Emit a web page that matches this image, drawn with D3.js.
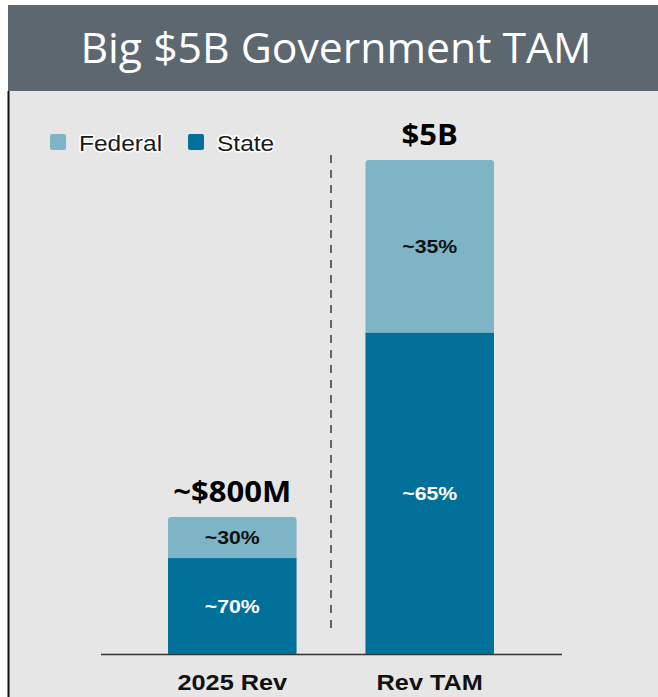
<!DOCTYPE html>
<html>
<head>
<meta charset="utf-8">
<script src="https://cdn.jsdelivr.net/npm/d3@7"></script>
<style>
  html, body { margin: 0; padding: 0; background: #ffffff; }
  svg { display: block; }
</style>
</head>
<body>
<svg id="chart" width="658" height="697"></svg>
<script>
// Revenue today vs. total addressable market, split by government level
const categories = ["2025 Rev", "Rev TAM"];
const totals = [800, 5000];              // $M
const totalLabels = ["~$800M", "$5B"];
const federalShare = [30, 35];           // %
const stateShare = [70, 65];             // %
const seriesNames = ["Federal", "State"];
const titleText = "Big $5B Government TAM";

const colors = { Federal: "#7db4c6", State: "#01719a" };

const W = 658, H = 697;
const svg = d3.select("#chart");

// page frame: light panel, dark header, left rule
svg.append("rect").attr("x", 8).attr("y", 5).attr("width", W - 8).attr("height", H - 5).attr("fill", "#e6e6e6");
svg.append("rect").attr("x", 8).attr("y", 5).attr("width", W - 8).attr("height", 86).attr("fill", "#5c6770");
svg.append("line").attr("x1", 8.5).attr("x2", 8.5).attr("y1", 91).attr("y2", H)
  .attr("stroke", "#111").attr("stroke-width", 2);

// text helper with a slight horizontal widening
function label(g, x, y, txt, opts) {
  const sx = opts.sx || 1;
  return g.append("text")
    .attr("transform", `translate(${x},${y}) scale(${sx},1)`)
    .attr("text-anchor", opts.anchor || "middle")
    .attr("font-family", opts.family || "Liberation Sans, Arial, sans-serif")
    .attr("font-size", opts.size)
    .attr("font-weight", opts.weight || "normal")
    .attr("fill", opts.fill || "#000")
    .text(txt);
}

label(svg, 336, 63, titleText, { family: "Open Sans, sans-serif", size: 41.5, fill: "#ffffff", sx: 1.03 });

// scales
const x = d3.scaleBand().domain(categories).range([168, 494]).paddingInner(0.349).paddingOuter(0);
const baseY = 654;
const h = d3.scalePow().exponent(0.7).domain([0, 5000]).range([0, 494]);

// axis baseline
svg.append("line").attr("x1", 101).attr("x2", 562).attr("y1", baseY + 0.5).attr("y2", baseY + 0.5)
  .attr("stroke", "#333").attr("stroke-width", 1.5);

// rounded top corners path
function topRounded(x0, y0, w, hh, r) {
  return `M${x0},${y0 + hh}V${y0 + r}Q${x0},${y0} ${x0 + r},${y0}H${x0 + w - r}Q${x0 + w},${y0} ${x0 + w},${y0 + r}V${y0 + hh}Z`;
}

const bars = categories.map((c, i) => {
  const total = h(totals[i]);
  const stateH = total * stateShare[i] / 100;
  const fedH = total * federalShare[i] / 100;
  return { c, i, total, stateH, fedH };
});

const g = svg.append("g");
bars.forEach(b => {
  const x0 = x(b.c), w = x.bandwidth();
  const top = baseY - b.total;
  const split = baseY - b.stateH;
  g.append("path").attr("d", topRounded(x0, top, w, b.fedH + 1, 3)).attr("fill", colors.Federal);
  g.append("rect").attr("x", x0).attr("y", split).attr("width", w).attr("height", b.stateH).attr("fill", colors.State);

  const cx = x0 + w / 2;
  label(g, cx, top + b.fedH / 2 + 6.5, "~" + federalShare[b.i] + "%", { size: 18.5, weight: "bold", fill: "#111", sx: 1.15 });
  label(g, cx, split + b.stateH / 2 + 6.5, "~" + stateShare[b.i] + "%", { size: 18.5, weight: "bold", fill: "#ffffff", sx: 1.15 });
  label(g, cx, top - 15, totalLabels[b.i], { family: "Open Sans, sans-serif", size: 29, weight: "bold", fill: "#000", sx: 1.07 });
  label(g, cx, 690, b.c, { size: 22, weight: "bold", fill: "#111", sx: 1.15 });
});

// dashed divider between actuals and market
svg.append("line").attr("x1", 331).attr("x2", 331).attr("y1", 155).attr("y2", 635)
  .attr("stroke", "#5c6770").attr("stroke-width", 2).attr("stroke-dasharray", "8,7");

// legend
const legend = svg.append("g");
const legX = [50, 188];
seriesNames.forEach((s, i) => {
  legend.append("rect").attr("x", legX[i]).attr("y", 134).attr("width", 16).attr("height", 16).attr("rx", 2)
    .attr("fill", colors[s]);
  label(legend, legX[i] + 29, 151, s, { size: 21.5, fill: "#1a1a1a", anchor: "start", sx: 1.14 })
    .attr("stroke", "#ffffff").attr("stroke-width", 3).attr("paint-order", "stroke").attr("stroke-linejoin", "round");
});
</script>
</body>
</html>
